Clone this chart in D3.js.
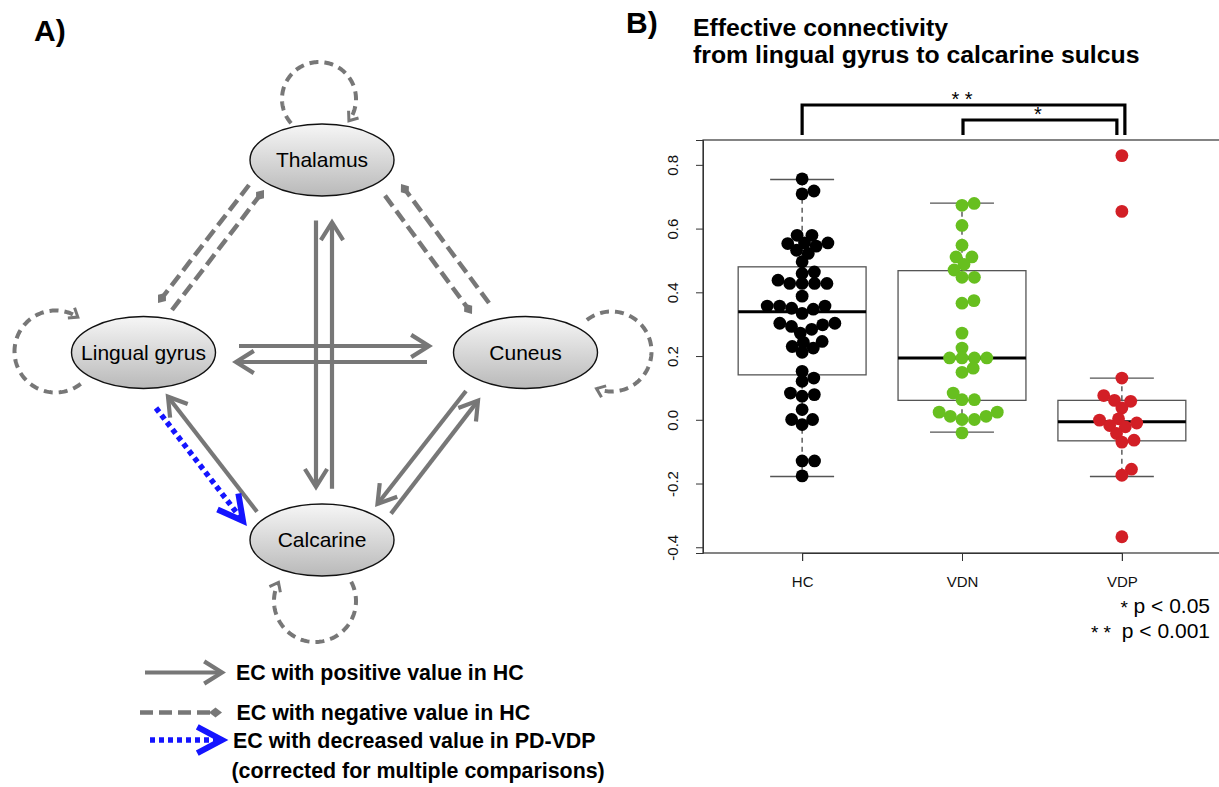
<!DOCTYPE html>
<html><head><meta charset="utf-8">
<script src="https://cdn.jsdelivr.net/npm/d3@7"></script>
<style>body{margin:0;background:#fff} svg{display:block} text{font-family:"Liberation Sans",Arial,Helvetica,sans-serif}</style>
</head><body><svg id="c" width="1219" height="787"></svg>
<script>
// ---------------- DATA ----------------
const groups = ["HC", "VDN", "VDP"];
const hcValues = [0.756, 0.718, 0.709, 0.579, 0.579, 0.555, 0.555, 0.553, 0.545, 0.532, 0.522, 0.496,
  0.464, 0.459, 0.438, 0.428, 0.428, 0.428, 0.428, 0.388, 0.357, 0.357, 0.357, 0.350, 0.347, 0.334,
  0.303, 0.303, 0.298, 0.293, 0.284, 0.272, 0.246, 0.243, 0.230, 0.225, 0.212, 0.152, 0.131, 0.121,
  0.084, 0.079, 0.074, 0.032, 0.001, 0.001, -0.015, -0.129, -0.129, -0.176];
const vdnValues = [0.679, 0.673, 0.610, 0.548, 0.511, 0.511, 0.488, 0.470, 0.447, 0.447, 0.374, 0.366,
  0.272, 0.225, 0.194, 0.194, 0.194, 0.194, 0.162, 0.149, 0.084, 0.063, 0.063, 0.024, 0.011, 0.001,
  0.001, 0.011, 0.024, -0.041];
const vdpValues = [0.829, 0.654, 0.131, 0.076, 0.061, 0.058, 0.037, 0.003, -0.001, -0.010, -0.018,
  -0.022, -0.043, -0.064, -0.070, -0.155, -0.174, -0.367];
const whiskerLow  = [-0.178, -0.039, -0.178];
const boxQ1       = [0.141, 0.061, -0.066];
const boxMedian   = [0.339, 0.194, -0.006];
const boxQ3       = [0.480, 0.468, 0.061];
const whiskerHigh = [0.754, 0.680, 0.131];
const yTicks = [-0.4, -0.2, 0.0, 0.2, 0.4, 0.6, 0.8];
const comparisons = [["HC", "VDP", "* *"], ["VDN", "VDP", "*"]];
const pLegend = [["*", "p < 0.05"], ["* *", "p < 0.001"]];
const titleLines = ["Effective connectivity", "from lingual gyrus to calcarine sulcus"];

const regions = ["Thalamus", "Lingual gyrus", "Cuneus", "Calcarine"];
const connections = [
  {from: "Thalamus", to: "Calcarine", type: "pos"},
  {from: "Calcarine", to: "Thalamus", type: "pos"},
  {from: "Lingual gyrus", to: "Cuneus", type: "pos"},
  {from: "Cuneus", to: "Lingual gyrus", type: "pos"},
  {from: "Calcarine", to: "Lingual gyrus", type: "pos"},
  {from: "Cuneus", to: "Calcarine", type: "pos"},
  {from: "Calcarine", to: "Cuneus", type: "pos"},
  {from: "Thalamus", to: "Lingual gyrus", type: "neg"},
  {from: "Lingual gyrus", to: "Thalamus", type: "neg"},
  {from: "Thalamus", to: "Cuneus", type: "neg"},
  {from: "Cuneus", to: "Thalamus", type: "neg"},
  {from: "Lingual gyrus", to: "Calcarine", type: "dec"}
];
const selfLoops = ["Thalamus", "Lingual gyrus", "Cuneus", "Calcarine"];
const legendItems = [
  {type: "pos", lines: ["EC with positive value in HC"]},
  {type: "neg", lines: ["EC with negative value in HC"]},
  {type: "dec", lines: ["EC with decreased value in PD-VDP", "(corrected for multiple comparisons)"]}
];

// ---------------- LAYOUT ----------------
const svg = d3.select("#c");
svg.append("rect").attr("width", 1219).attr("height", 787).attr("fill", "#fff");
const GRAY = "#777", BLUE = "#1414ff";

// ===== Panel B =====
const y = d3.scaleLinear().domain([-0.418, 0.878]).range([553, 140]);
const xi = d3.scaleLinear().domain([0.38, 3.62]).range([703, 1221]);
const x = g => xi(groups.indexOf(g) + 1);
const unit = xi(1) - xi(0);
const B = svg.append("g");

B.append("text").attr("x", 626).attr("y", 33).attr("font-size", 30).attr("font-weight", "bold").text("B)");
B.selectAll("text.title").data(titleLines).join("text").attr("class", "title")
  .attr("x", 693).attr("y", (d, i) => 36 + i * 27).attr("font-size", 24.8).attr("font-weight", "bold").text(d => d);

// frame
B.append("rect").attr("x", 703).attr("y", 140).attr("width", 518).attr("height", 413)
  .attr("fill", "none").attr("stroke", "#333").attr("stroke-width", 1.2);

// y axis
const yAxis = d3.axisLeft(y).tickValues(yTicks).tickSize(7).tickFormat(d => d.toFixed(1));
const ya = B.append("g").attr("transform", "translate(703,0)").call(yAxis);
ya.select(".domain").attr("stroke", "#333");
ya.selectAll(".tick line").attr("stroke", "#333");
ya.selectAll(".tick text").attr("font-size", 15).attr("fill", "#111")
  .attr("font-family", "Liberation Sans, Arial, sans-serif")
  .attr("transform", "rotate(-90)").attr("x", 0).attr("y", -30).attr("dy", "0.35em").attr("text-anchor", "middle");

// x axis
const xAxis = d3.axisBottom(d3.scalePoint().domain(groups).range([x("HC"), x("VDP")])).tickSize(8);
const xa = B.append("g").attr("transform", "translate(0,553)").call(xAxis);
xa.select(".domain").attr("stroke", "#333");
xa.selectAll(".tick line").attr("stroke", "#333");
xa.selectAll(".tick text").attr("font-size", 15).attr("fill", "#111").attr("y", 23)
  .attr("font-family", "Liberation Sans, Arial, sans-serif");

// boxplots
const boxHalf = 0.4 * unit, capHalf = 0.2 * unit;
groups.forEach((g, i) => {
  const cx = x(g);
  B.append("line").attr("x1", cx).attr("x2", cx).attr("y1", y(boxQ3[i])).attr("y2", y(whiskerHigh[i]))
    .attr("stroke", "#444").attr("stroke-width", 1.3).attr("stroke-dasharray", "5,4");
  B.append("line").attr("x1", cx).attr("x2", cx).attr("y1", y(boxQ1[i])).attr("y2", y(whiskerLow[i]))
    .attr("stroke", "#444").attr("stroke-width", 1.3).attr("stroke-dasharray", "5,4");
  [whiskerHigh[i], whiskerLow[i]].forEach(v => B.append("line").attr("x1", cx - capHalf).attr("x2", cx + capHalf)
    .attr("y1", y(v)).attr("y2", y(v)).attr("stroke", "#555").attr("stroke-width", 1.3));
  B.append("rect").attr("x", cx - boxHalf).attr("width", 2 * boxHalf).attr("y", y(boxQ3[i]))
    .attr("height", y(boxQ1[i]) - y(boxQ3[i])).attr("fill", "none").attr("stroke", "#555").attr("stroke-width", 1.3);
  B.append("line").attr("x1", cx - boxHalf).attr("x2", cx + boxHalf).attr("y1", y(boxMedian[i])).attr("y2", y(boxMedian[i]))
    .attr("stroke", "#000").attr("stroke-width", 3);
});

// beeswarm (swarm method, ascending priority); vertical distances weighted by yk
function swarm(vals, cx, d, yk) {
  const pts = vals.map(v => ({v, py: y(v), dx: 0}));
  const order = pts.slice().sort((a, b) => a.v - b.v);
  const placed = [];
  for (const p of order) {
    const cands = [0];
    for (const q of placed) {
      const dy = Math.abs(q.py - p.py) * yk;
      if (dy < d) { const dd = Math.sqrt(d * d - dy * dy); cands.push(q.dx + dd, q.dx - dd); }
    }
    cands.sort((a, b) => Math.abs(a) - Math.abs(b));
    for (const c of cands) {
      if (placed.every(q => (q.dx - c) ** 2 + ((q.py - p.py) * yk) ** 2 >= d * d - 1e-6)) { p.dx = c; break; }
    }
    placed.push(p);
  }
  return pts.map(p => ({x: cx + p.dx, y: p.py}));
}
const series = [[hcValues, "#000000"], [vdnValues, "#67bf1f"], [vdpValues, "#d21f26"]];
series.forEach(([vals, col], i) => {
  B.append("g").selectAll("circle").data(swarm(vals, x(groups[i]), 12.4, 1.3)).join("circle")
    .attr("cx", d => d.x).attr("cy", d => d.y).attr("r", 6.4).attr("fill", col);
});

// significance brackets
const bracketY = [105, 120];
comparisons.forEach(([a, b, lab], i) => {
  const x1 = x(a) + (i === 0 ? 0 : 1), x2 = x(b) + (i === 0 ? 3 : -5);
  B.append("path").attr("d", `M${x1},135 V${bracketY[i]} H${x2} V135`)
    .attr("fill", "none").attr("stroke", "#000").attr("stroke-width", 3.2);
  B.append("text").attr("x", (x(a) + x(b)) / 2 - (i === 0 ? 0 : 4)).attr("y", bracketY[i] + 1)
    .attr("text-anchor", "middle").attr("font-size", 20).text(lab);
});

// p legend
pLegend.forEach(([s, t], i) => {
  const by = 613 + i * 24.5;
  B.append("text").attr("x", 1210).attr("y", by).attr("text-anchor", "end").attr("font-size", 21).text(t);
  B.append("text").attr("x", i === 0 ? 1128 : 1111).attr("y", by + 1).attr("text-anchor", "end")
    .attr("font-size", 19).text(s);
});

// ===== Panel A =====
const A = svg.append("g");
A.append("text").attr("x", 34).attr("y", 41).attr("font-size", 30).attr("font-weight", "bold").text("A)");

const nodePos = {"Thalamus": [322, 160], "Lingual gyrus": [143.5, 352.5], "Cuneus": [525.5, 352.5], "Calcarine": [322, 540]};
const RX = 72, RY = 36;
// edge end offsets relative to node centres (layout)
const edgeOffsets = {
  "Thalamus>Calcarine": [[-6, 60.5], [-6, -53.2]],
  "Calcarine>Thalamus": [[10, -51.3], [10, 62.4]],
  "Lingual gyrus>Cuneus": [[95.5, -6.5], [-96.5, -6.5]],
  "Cuneus>Lingual gyrus": [[-98.5, 9.5], [92.5, 9.5]],
  "Calcarine>Lingual gyrus": [[-65, -28.3], [24.5, 44.2]],
  "Cuneus>Calcarine": [[-59.5, 38.5], [55.5, -36]],
  "Calcarine>Cuneus": [[69, -26.4], [-47.5, 48.1]],
  "Thalamus>Lingual gyrus": [[-73, 25], [14.5, -49.5]],
  "Lingual gyrus>Thalamus": [[28.5, -42.5], [-58, 30]],
  "Thalamus>Cuneus": [[63, 35.6], [-53.5, -38.5]],
  "Cuneus>Thalamus": [[-36.5, -49.5], [79, 24]],
  "Lingual gyrus>Calcarine": [[12.5, 55.5], [-79, -19]]
};
// loop layout: centre offset, radius, start/end angle (deg, clockwise)
const loopGeom = {
  "Thalamus": {c: [-3, -61], r: 37, a0: 139, a1: 396},
  "Lingual gyrus": {c: [-88, -1], r: 41, a0: 52, a1: 303},
  "Cuneus": {c: [86, -1], r: 40, a0: 232, a1: 472},
  "Calcarine": {c: [-7, 61], r: 41, a0: 332, a1: 567}
};

const defs = svg.append("defs");
const grad = defs.append("linearGradient").attr("id", "eg").attr("x1", 0).attr("y1", 0).attr("x2", 0).attr("y2", 1);
grad.append("stop").attr("offset", "0%").attr("stop-color", "#f6f6f6");
grad.append("stop").attr("offset", "100%").attr("stop-color", "#b9b9b9");

const style = {
  pos: {stroke: GRAY, w: 4.2, dash: null},
  neg: {stroke: GRAY, w: 4.5, dash: "13,6"},
  dec: {stroke: BLUE, w: 5.5, dash: "5,4"}
};

function chevron(g, tip, dir, len, ang, col, w) {
  const a = Math.atan2(dir[1], dir[0]) + Math.PI;
  const r = ang * Math.PI / 180;
  const p1 = [tip[0] + len * Math.cos(a + r), tip[1] + len * Math.sin(a + r)];
  const p2 = [tip[0] + len * Math.cos(a - r), tip[1] + len * Math.sin(a - r)];
  g.append("path").attr("d", `M${p1}L${tip}L${p2}`).attr("fill", "none").attr("stroke", col)
    .attr("stroke-width", w).attr("stroke-linejoin", "miter").attr("stroke-linecap", "butt");
}
function diamond(g, tip, dir, col) {
  const L = Math.hypot(dir[0], dir[1]); const u = [dir[0] / L, dir[1] / L]; const n = [-u[1], u[0]];
  const L1 = 13, W = 5;
  const back = [tip[0] - u[0] * L1, tip[1] - u[1] * L1];
  const mid = [tip[0] - u[0] * L1 * 0.5, tip[1] - u[1] * L1 * 0.5];
  g.append("path").attr("d", `M${tip}L${mid[0] + n[0] * W},${mid[1] + n[1] * W}L${back}L${mid[0] - n[0] * W},${mid[1] - n[1] * W}Z`)
    .attr("fill", col);
}
function drawArrow(g, p0, p1, type) {
  const s = style[type];
  const dir = [p1[0] - p0[0], p1[1] - p0[1]];
  const L = Math.hypot(dir[0], dir[1]);
  const u = [dir[0] / L, dir[1] / L];
  let end = p1;
  if (type === "neg") end = [p1[0] - u[0] * 10, p1[1] - u[1] * 10];
  if (type === "dec") end = [p1[0] - u[0] * 6, p1[1] - u[1] * 6];
  const ln = g.append("line").attr("x1", p0[0]).attr("y1", p0[1]).attr("x2", end[0]).attr("y2", end[1])
    .attr("stroke", s.stroke).attr("stroke-width", s.w);
  if (s.dash) ln.attr("stroke-dasharray", s.dash);
  if (type === "pos") chevron(g, p1, dir, 21, 32, GRAY, 4.2);
  else if (type === "neg") diamond(g, p1, dir, GRAY);
  else chevron(g, p1, dir, 28, 28, BLUE, 6);
}

// connections
connections.forEach(c => {
  const off = edgeOffsets[c.from + ">" + c.to];
  const a = nodePos[c.from], b = nodePos[c.to];
  drawArrow(A, [a[0] + off[0][0], a[1] + off[0][1]], [b[0] + off[1][0], b[1] + off[1][1]], c.type);
});

// self loops
selfLoops.forEach(n => {
  const gm = loopGeom[n], p = nodePos[n];
  const cx = p[0] + gm.c[0], cy = p[1] + gm.c[1];
  const rad = d => d * Math.PI / 180;
  const arcPts = d3.range(gm.a0, gm.a1 + 0.01, 2).map(a => [cx + gm.r * Math.cos(rad(a)), cy + gm.r * Math.sin(rad(a))]);
  A.append("path").attr("d", d3.line()(arcPts)).attr("fill", "none").attr("stroke", GRAY)
    .attr("stroke-width", 4).attr("stroke-dasharray", "9,6");
  const t = rad(gm.a1);
  const tip = [cx + gm.r * Math.cos(t), cy + gm.r * Math.sin(t)];
  chevron(A, tip, [-Math.sin(t), Math.cos(t)], 10, 38, GRAY, 3);
});

// nodes
const nodeG = A.selectAll("g.node").data(regions).join("g").attr("class", "node")
  .attr("transform", d => `translate(${nodePos[d]})`);
nodeG.append("ellipse").attr("rx", RX).attr("ry", RY).attr("fill", "url(#eg)").attr("stroke", "#111").attr("stroke-width", 1.4);
nodeG.append("text").attr("text-anchor", "middle").attr("dy", "0.35em").attr("font-size", 21).attr("fill", "#000").text(d => d);

// legend
const legY = [672.5, 712.5, 740];
const legX0 = {pos: 145, neg: 140, dec: 150};
const legTx = {pos: 236, neg: 236.5, dec: 233};
legendItems.forEach((it, i) => {
  drawArrow(A, [legX0[it.type], legY[i]], [222, legY[i]], it.type);
  it.lines.forEach((t, j) => {
    A.append("text").attr("x", legTx[it.type] - j * 1.5).attr("y", legY[i] + 7.5 + j * 30)
      .attr("font-size", 21.4).attr("font-weight", "bold").text(t);
  });
});
</script></body></html>
